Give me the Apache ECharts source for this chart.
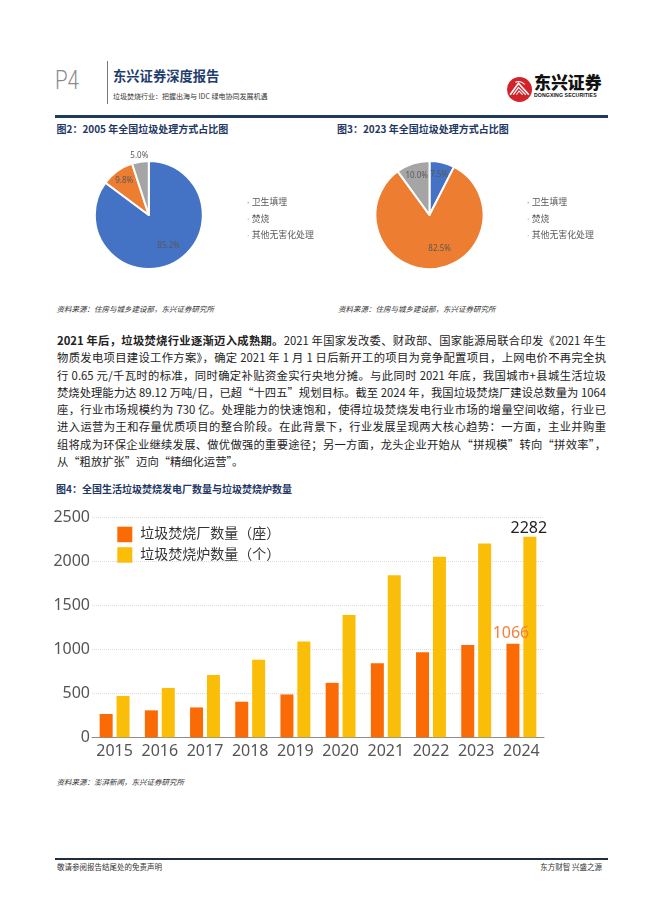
<!DOCTYPE html>
<html><head><meta charset="utf-8">
<script src="https://cdn.jsdelivr.net/npm/echarts@6/dist/echarts.min.js"></script>
<style>
html,body{margin:0;padding:0;background:#fff;}
body{width:662px;height:898px;position:relative;overflow:hidden;font-family:"Noto Sans CJK SC","Noto Sans",sans-serif;color:#222;}
.a{position:absolute;white-space:nowrap;}
.ftitle{font-size:10px;font-weight:bold;color:#1F3864;line-height:14px;}
.src{font-size:7.5px;font-style:italic;color:#333;line-height:10px;}
.para{position:absolute;left:57px;top:332px;width:549px;font-size:11.3px;color:#222;}
.para div{height:17.3px;line-height:17.3px;text-align:justify;text-align-last:justify;white-space:nowrap;}
.para div.last{text-align-last:left;}
#chart{position:absolute;left:0;top:0;width:662px;height:898px;z-index:2;}
</style></head><body>

<!-- header -->
<div class="a" style="left:55px;top:66px;font-family:Roboto;font-weight:300;font-size:25px;line-height:30px;color:#8a8a8a;transform:scaleX(0.82);transform-origin:left center;">P4</div>
<div class="a" style="left:107px;top:61px;width:1px;height:43px;background:#777;"></div>
<div class="a" style="left:113px;top:67px;font-size:13.3px;line-height:18px;font-weight:bold;color:#1E3D6E;">东兴证券深度报告</div>
<div class="a" style="left:113px;top:91px;font-size:7px;line-height:10px;color:#333;">垃圾焚烧行业：把握出海与 IDC 绿电协同发展机遇</div>
<svg class="a" style="left:507px;top:77px;" width="25" height="25" viewBox="0 0 24 24">
  <circle cx="12" cy="12" r="12" fill="#D2232A"/>
  <path d="M3 17 L11 6 L21 17" fill="none" stroke="#fff" stroke-width="1.6"/>
  <path d="M6 17 L11 10 L18 17" fill="none" stroke="#fff" stroke-width="1.2"/>
  <path d="M9 17 L11.5 13.5 L15 17" fill="none" stroke="#fff" stroke-width="1"/>
  <path d="M8 5 Q13 3 17 7" fill="none" stroke="#fff" stroke-width="1"/>
</svg>
<div class="a" style="left:534px;top:71px;font-size:16.9px;line-height:22px;font-weight:900;color:#111;">东兴证券</div>
<div class="a" style="left:534px;top:91.5px;font-family:'Liberation Sans';font-size:5.2px;line-height:7px;font-weight:bold;color:#111;letter-spacing:0.1px;">DONGXING SECURITIES</div>
<div class="a" style="left:55px;top:115px;width:553px;height:2.5px;background:#1F3A5C;"></div>

<!-- figure titles -->
<div class="a ftitle" style="left:56.5px;top:122px;">图2：2005 年全国垃圾处理方式占比图</div>
<div class="a ftitle" style="left:337px;top:122px;">图3：2023 年全国垃圾处理方式占比图</div>
<div class="a src" style="left:56.5px;top:304px;">资料来源：住房与城乡建设部，东兴证券研究所</div>
<div class="a src" style="left:338px;top:304px;">资料来源：住房与城乡建设部，东兴证券研究所</div>

<!-- paragraph -->
<div class="para">
<div><b>2021 年后，垃圾焚烧行业逐渐迈入成熟期。</b>2021 年国家发改委、财政部、国家能源局联合印发《2021 年生</div>
<div>物质发电项目建设工作方案》，确定 2021 年 1 月 1 日后新开工的项目为竞争配置项目，上网电价不再完全执</div>
<div>行 0.65 元/千瓦时的标准，同时确定补贴资金实行央地分摊。与此同时 2021 年底，我国城市+县城生活垃圾</div>
<div>焚烧处理能力达 89.12 万吨/日，已超“十四五”规划目标。截至 2024 年，我国垃圾焚烧厂建设总数量为 1064</div>
<div>座，行业市场规模约为 730 亿。处理能力的快速饱和，使得垃圾焚烧发电行业市场的增量空间收缩，行业已</div>
<div>进入运营为王和存量优质项目的整合阶段。在此背景下，行业发展呈现两大核心趋势：一方面，主业并购重</div>
<div>组将成为环保企业继续发展、做优做强的重要途径；另一方面，龙头企业开始从“拼规模”转向“拼效率”，</div>
<div class="last">从“粗放扩张”迈向“精细化运营”。</div>
</div>

<div class="a ftitle" style="left:56px;top:482px;">图4：全国生活垃圾焚烧发电厂数量与垃圾焚烧炉数量</div>
<div class="a src" style="left:56.5px;top:777px;">资料来源：澎湃新闻，东兴证券研究所</div>

<!-- footer -->
<div class="a" style="left:55px;top:858px;width:553px;height:1.5px;background:#1F2D3D;"></div>
<div class="a" style="left:57px;top:862px;font-size:7.5px;line-height:10px;color:#333;">敬请参阅报告结尾处的免责声明</div>
<div class="a" style="right:60px;top:862px;font-size:7.5px;line-height:10px;color:#333;">东方财智 兴盛之源</div>

<div id="chart"></div>
<script>
// ---- data ----
const years = ['2015','2016','2017','2018','2019','2020','2021','2022','2023','2024'];
const plantCount = [265, 307, 340, 405, 488, 620, 843, 968, 1052, 1066];
const furnaceCount = [471, 562, 709, 883, 1090, 1392, 1845, 2055, 2207, 2282];
const barNames = ['垃圾焚烧厂数量（座）', '垃圾焚烧炉数量（个）'];
const pieNames = ['卫生填埋', '焚烧', '其他无害化处理'];
const share2005 = [85.2, 9.8, 5.0];
const share2023 = [7.5, 82.5, 10.0];
const yMin = 0, yMax = 2500, yStep = 500;

// ---- styles ----
const pieColors = ['#4472C4', '#ED7D31', '#A5A5A5'];
const pieGeo = [{cx: 148.8, cy: 215, r: 54}, {cx: 429.5, cy: 215, r: 54}];
// label placement per slice: [radius fraction, angle offset (deg)]
const pieLabelPos = [
  [[0.68, -6], [0.78, 0], [1.12, 0]],
  [[0.77, 0], [0.66, -12], [0.77, 0]]
];
const FONT = "'Noto Sans', 'Noto Sans CJK SC', sans-serif";

const chart = echarts.init(document.getElementById('chart'), null, {renderer: 'canvas'});

function pieSeries(idx, values) {
  const g = pieGeo[idx];
  return {
    type: 'pie', silent: true, animation: false,
    center: [g.cx, g.cy], radius: [0, g.r],
    startAngle: 90, clockwise: true,
    data: pieNames.map((n, i) => ({name: n, value: values[i], itemStyle: {color: pieColors[i]}})),
    itemStyle: {borderColor: '#fff', borderWidth: 2},
    label: {show: true, position: 'inside', formatter: p => p.value.toFixed(1) + '%',
            color: '#595959', fontSize: 8, fontFamily: FONT},
    labelLine: {show: false},
    emphasis: {disabled: true},
    labelLayout: function (p) {
      const lr = p.labelRect;
      const lx = lr.x + lr.width / 2, ly = lr.y + lr.height / 2;
      const th = Math.atan2(lx - g.cx, -(ly - g.cy));
      const pos = pieLabelPos[idx][p.dataIndex];
      const th2 = th + pos[1] * Math.PI / 180;
      const R = pos[0] * g.r;
      return {dx: g.cx + R * Math.sin(th2) - lx, dy: g.cy - R * Math.cos(th2) - ly};
    }
  };
}

function pieLegend(left) {
  return {
    orient: 'vertical', left: left, top: 191.7, itemWidth: 3, itemHeight: 3, itemGap: 4.5,
    icon: 'rect', data: pieNames, selectedMode: false,
    textStyle: {fontSize: 8.9, color: '#595959', fontFamily: FONT, lineHeight: 12, padding: [0, 0, 0, -3]}
  };
}

const lastIdx = years.length - 1;
chart.setOption({
  animation: false,
  textStyle: {fontFamily: FONT},
  legend: [
    pieLegend(240.7),
    pieLegend(520.7),
    {
      orient: 'vertical', left: 112.3, top: 521.7, itemWidth: 15, itemHeight: 15.5, itemGap: 5,
      icon: 'rect', data: barNames, selectedMode: false,
      textStyle: {fontSize: 14, color: '#333', fontFamily: FONT, lineHeight: 15.5, padding: [0, 0, 0, 3]}
    }
  ],
  grid: {left: 92, top: 517.7, width: 452, height: 219.6, outerBoundsMode: 'none', containLabel: false},
  xAxis: {
    type: 'category', data: years, boundaryGap: true,
    axisLine: {show: true, lineStyle: {color: '#8c8c8c', width: 1}},
    axisTick: {show: false},
    axisLabel: {interval: 0, hideOverlap: false, fontSize: 16, color: '#555', margin: 6, fontFamily: FONT,
                formatter: v => String(v)}
  },
  yAxis: {
    type: 'value', min: yMin, max: yMax, interval: yStep,
    axisLine: {show: false}, axisTick: {show: false},
    splitLine: {show: true, lineStyle: {color: '#dcdcdc', type: 'dotted', width: 1}},
    axisLabel: {fontSize: 16, color: '#555', margin: 2, fontFamily: FONT, formatter: v => String(v)}
  },
  series: [
    pieSeries(0, share2005),
    pieSeries(1, share2023),
    {
      name: barNames[0], type: 'bar', data: plantCount, barWidth: 13, barGap: '30%',
      itemStyle: {color: '#FA6B05'}, silent: true,
      label: {show: true, position: 'top', distance: 2, fontSize: 16, color: '#F0823C', fontFamily: FONT,
              offset: [-2, 0], formatter: p => p.dataIndex === lastIdx ? String(p.value) : ''}
    },
    {
      name: barNames[1], type: 'bar', data: furnaceCount, barWidth: 13,
      itemStyle: {color: '#FBBE08'}, silent: true,
      label: {show: true, position: 'top', distance: 0, fontSize: 16, color: '#222', fontFamily: FONT,
              offset: [-1, 0], formatter: p => p.dataIndex === lastIdx ? String(p.value) : ''}
    }
  ]
});
</script>
</body></html>
